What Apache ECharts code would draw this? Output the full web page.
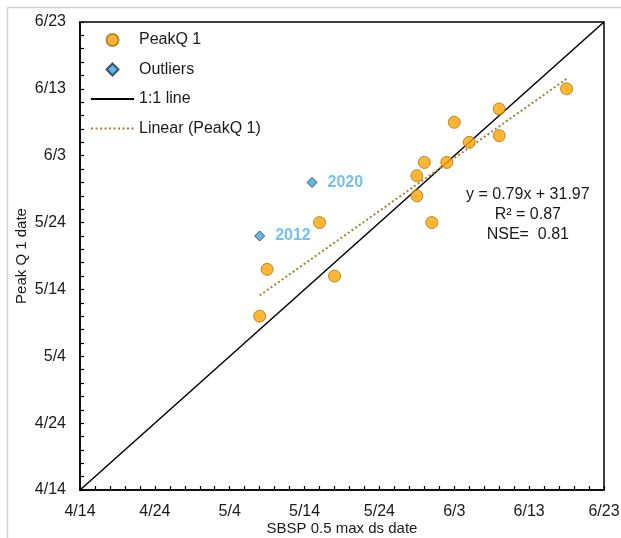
<!DOCTYPE html>
<html>
<head>
<meta charset="utf-8">
<script src="https://cdn.jsdelivr.net/npm/echarts@6/dist/echarts.min.js"></script>
<style>
html,body{margin:0;padding:0;background:#fff;}
#chart{width:621px;height:538px;}
</style>
</head>
<body>
<div id="chart"></div>
<script>
// Day 0 = 4/14
const tickLabels = ['4/14','4/24','5/4','5/14','5/24','6/3','6/13','6/23'];
const peakX = [65, 56, 50, 56, 52, 46, 49, 45, 45, 47, 32, 25, 34, 24];
const peakY = [60, 57, 55, 53, 52, 49, 49, 47, 44, 40, 40, 33, 32, 26];
const outlierX = [31, 24];
const outlierY = [46, 38];
const outlierLabels = ['2020', '2012'];
const oneToOneX = [0, 70];
const oneToOneY = [0, 70];
const trendX = [24, 65];
const trendY = [29.1, 61.5];
const statsLines = ['y = 0.79x + 31.97', 'R\u00b2 = 0.87', 'NSE=  0.81'];

const FONT = 'Liberation Sans, Arial, sans-serif';
const zip = (a, b) => a.map((v, i) => [v, b[i]]);

const chart = echarts.init(document.getElementById('chart'), null, {renderer: 'canvas'});

function axis(name, isX) {
  return {
    type: 'value', min: 0, max: 70, interval: 10,
    name: name, nameLocation: 'middle', nameMoveOverlap: false,
    nameGap: isX ? 31 : 51,
    nameTextStyle: {fontFamily: FONT, fontSize: 15, color: '#1a1a1a'},
    axisLine: {show: true, lineStyle: {color: '#000', width: 1.5}},
    axisTick: {show: true, inside: true, length: 4, lineStyle: {color: '#000', width: 1.2}},
    minorTick: {show: true, splitNumber: 5, length: 4, lineStyle: {color: '#000', width: 1.2}},
    splitLine: {show: false},
    axisLabel: {
      fontFamily: FONT, fontSize: 16, color: '#1a1a1a', margin: isX ? 14 : 14,
      showMinLabel: true, showMaxLabel: true,
      formatter: v => tickLabels[Math.round(v / 10)]
    }
  };
}

chart.setOption({
  animation: false,
  backgroundColor: '#fff',
  grid: {left: 80, right: 17, top: 22, bottom: 48, show: true, borderColor: '#000', borderWidth: 1.5,
         outerBoundsMode: 'none', containLabel: false},
  xAxis: axis('SBSP 0.5 max ds date', true),
  yAxis: axis('Peak Q 1 date', false),
  legend: {
    orient: 'vertical', left: 90, top: 32, padding: 0,
    itemWidth: 43, itemHeight: 12, itemGap: 13.5,
    textStyle: {fontFamily: FONT, fontSize: 16, color: '#1a1a1a'},
    data: [
      {name: 'PeakQ 1'},
      {name: 'Outliers', icon: 'path://M5,0L10,5L5,10L0,5Z'},
      {name: '1:1 line', itemStyle: {opacity: 0}},
      {name: 'Linear (PeakQ 1)', itemStyle: {opacity: 0}}
    ]
  },
  series: [
    {
      name: '1:1 line', type: 'line', data: zip(oneToOneX, oneToOneY),
      symbol: 'none', lineStyle: {color: '#000', width: 1.5}, itemStyle: {color: '#000'}, z: 2
    },
    {
      name: 'Linear (PeakQ 1)', type: 'line', data: zip(trendX, trendY),
      symbol: 'none', lineStyle: {color: '#A97F2F', width: 2, type: [2, 2.5]},
      itemStyle: {color: '#A97F2F'}, z: 3
    },
    {
      name: 'PeakQ 1', type: 'scatter', data: zip(peakX, peakY),
      symbol: 'circle', symbolSize: 12,
      itemStyle: {color: '#FFA500', borderColor: '#A87410', borderWidth: 1}, z: 4
    },
    {
      name: 'Outliers', type: 'scatter',
      data: outlierX.map((x, i) => ({value: [x, outlierY[i]], name: outlierLabels[i]})),
      symbol: 'diamond', symbolSize: [10, 10],
      itemStyle: {color: '#3FA4DC', borderColor: '#1D3550', borderWidth: 1}, z: 4,
      label: {
        show: true, position: 'right', distance: 10,
        formatter: p => p.name,
        fontFamily: FONT, fontSize: 16, fontWeight: 'bold', color: '#52B2EA'
      }
    }
  ],
  graphic: [
    {type: 'line', shape: {x1: 7.5, y1: 7.5, x2: 621, y2: 7.5}, style: {stroke: '#cfcfcf', lineWidth: 1.5}, silent: true},
    {type: 'line', shape: {x1: 7.5, y1: 7.5, x2: 7.5, y2: 538}, style: {stroke: '#cfcfcf', lineWidth: 1.5}, silent: true},
    {type: 'group', left: 466, top: 187, children: statsLines.map((t, i) => ({
      type: 'text', x: 70, y: i * 20,
      style: {text: t, fontFamily: FONT, fontSize: 16, fill: '#1a1a1a', textAlign: 'center'}
    }))}
  ]
});
</script>
</body>
</html>
